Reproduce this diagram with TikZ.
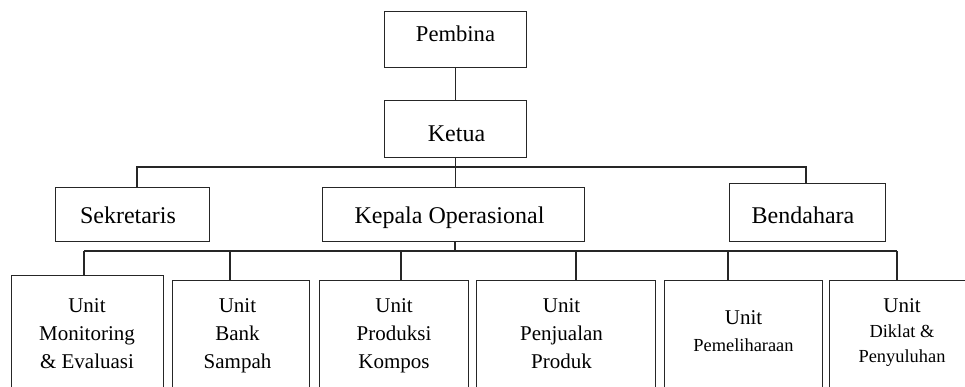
\documentclass[tikz,border=0pt]{standalone}
\usepackage{fontspec}
\setmainfont{Liberation Serif}
\usetikzlibrary{positioning}

\begin{document}
\begin{tikzpicture}[x=1pt, y=-1pt,
    box/.style={draw=black!85, line width=1.2pt, inner sep=0pt, anchor=north west},
    bigtxt/.style={font=\fontsize{24}{28}\selectfont, inner sep=0pt, anchor=base},
    unittxt/.style={font=\fontsize{21}{28}\selectfont, align=center, inner sep=0pt, anchor=base},
    link/.style={draw=black!85, line width=1.2pt}]
    \useasboundingbox (0,0) rectangle (965,387);

    % Top boxes
    \node[box, minimum width=142pt, minimum height=56pt] (pembina) at (384,11) {};
    \node[box, minimum width=142pt, minimum height=57pt] (ketua) at (384,100) {};
    \node[box, minimum width=154pt, minimum height=54pt] (sekretaris) at (55,187) {};
    \node[box, minimum width=262pt, minimum height=54pt] (kepala) at (322,187) {};
    \node[box, minimum width=156pt, minimum height=58pt] (bendahara) at (729,183) {};

    \node[bigtxt, font=\fontsize{22.6}{26}\selectfont] (pembina-t) at (455.5,41.7) {Pembina};
    \node[bigtxt] (ketua-t) at (456.5,141.7) {Ketua};
    \node[bigtxt] (sekretaris-t) at (128,223.3) {Sekretaris};
    \node[bigtxt] (kepala-t) at (449.5,223.3) {Kepala Operasional};
    \node[bigtxt] (bendahara-t) at (803,223.3) {Bendahara};

    % Unit boxes (cut off at the bottom)
    \foreach \u/\xl/\yt/\w in {u1/11/275/152pt, u2/172/280/137pt, u3/319/280/149pt,
                               u4/476/280/179pt, u5/664/280/158pt, u6/829/280/150pt} {
        \node[box, minimum width=\w, minimum height=130pt] (\u) at (\xl,\yt) {};
    }

    % base = baseline of the last line
    \node[unittxt] (u1-t) at (87,368.3) {Unit\\Monitoring\\\& Evaluasi};
    \node[unittxt] (u2-t) at (237.5,368.3) {Unit\\Bank\\Sampah};
    \node[unittxt] (u3-t) at (394,368.3) {Unit\\Produksi\\Kompos};
    \node[unittxt] (u4-t) at (561.5,368.3) {Unit\\Penjualan\\Produk};
    \node[unittxt] (u5-t) at (743.5,351) {Unit\\[-1pt]{\fontsize{18.4}{27}\selectfont Pemeliharaan}};
    \node[unittxt] (u6-t) at (902,362) {Unit\\[-3pt]{\fontsize{18.4}{25}\selectfont Diklat \&}\\[-3pt]{\fontsize{18.4}{25}\selectfont Penyuluhan}};

    % Pembina - Ketua
    \draw[link] (pembina) -- (ketua);

    % Bus under Ketua
    \coordinate (sekdrop) at (137,167);
    \coordinate (bendrop) at (806,167);
    \draw[link] (sekdrop |- sekretaris.north) -- (sekdrop) -- (bendrop) -- (bendrop |- bendahara.north);
    \draw[link] (ketua.south) -- (ketua.south |- kepala.north);

    % Bus under Kepala Operasional
    \coordinate (kepdrop) at (455,251);
    \draw[link] (kepdrop |- kepala.south) -- (kepdrop);
    \foreach \u/\x in {u1/84, u2/230, u3/401, u4/576, u5/728, u6/897} {
        \coordinate (d\u) at (\x,251);
        \draw[link] (d\u) -- (d\u |- \u.north);
    }
    \draw[link] (du1) -- (du6);
\end{tikzpicture}
\end{document}
